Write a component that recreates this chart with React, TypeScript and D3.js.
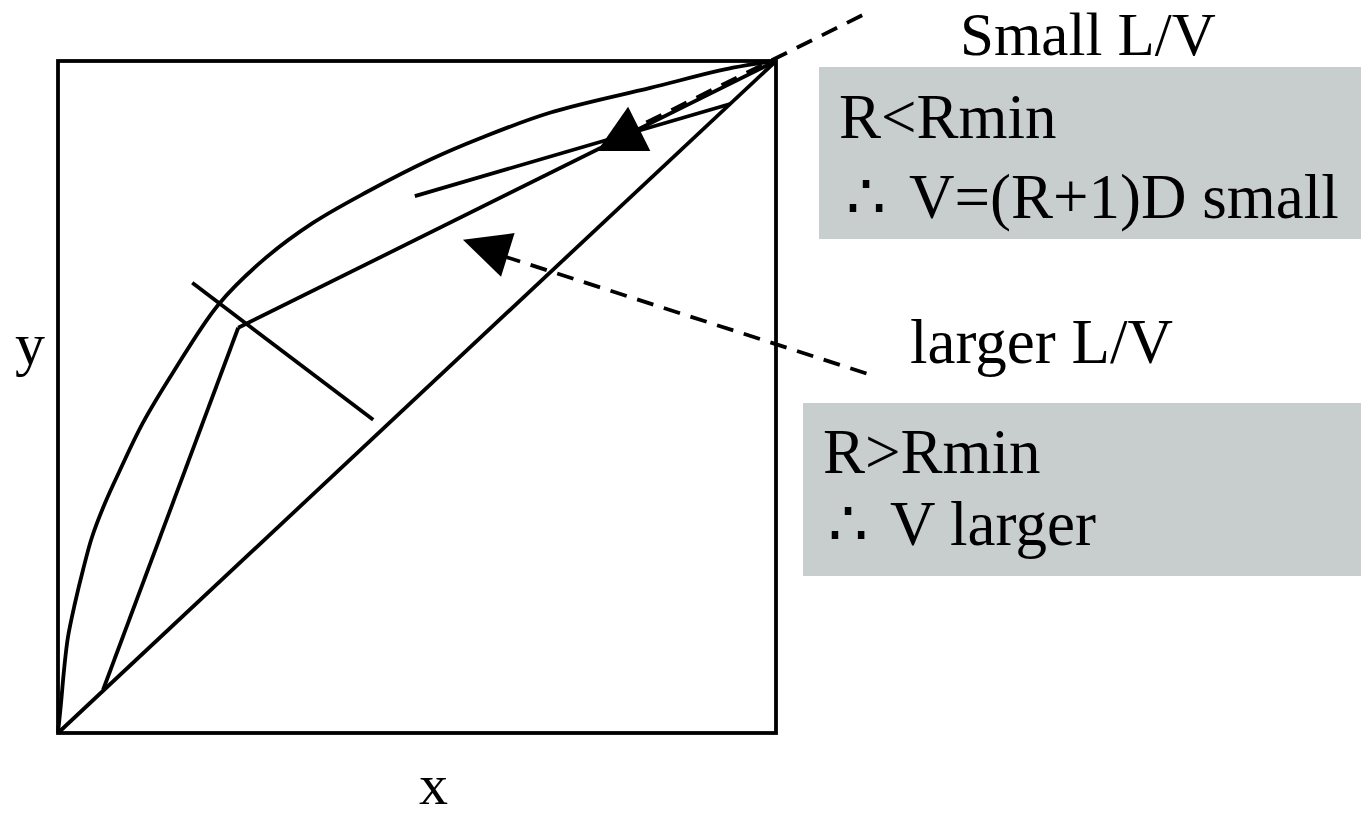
import React from "react";
import * as d3 from "d3";

// Domain values (mole fractions, 0..1)
const equilibriumX = [0, 0.0042, 0.0084, 0.0139, 0.0237, 0.0348, 0.0474, 0.0655, 0.0864, 0.118, 0.16, 0.223, 0.286, 0.355, 0.43, 0.518, 0.588, 0.685, 0.825, 0.94, 1];
const equilibriumY = [0, 0.0446, 0.0938, 0.1429, 0.1935, 0.2426, 0.2917, 0.3423, 0.3914, 0.461, 0.536, 0.637, 0.704, 0.759, 0.805, 0.853, 0.885, 0.923, 0.96, 0.99, 1];

const diagonalX = [0, 1];
const diagonalY = [0, 1];

const rectifyingX = [1, 0.251];
const rectifyingY = [1, 0.603];

const strippingX = [0.251, 0.0627];
const strippingY = [0.603, 0.064];

const qLineX = [0.187, 0.439];
const qLineY = [0.67, 0.466];

const smallLVX = [0.497, 0.936];
const smallLVY = [0.799, 0.936];

const dashSmallX = [1.12, 0.813];
const dashSmallY = [1.068, 0.905];

const dashLargeX = [1.126, 0.625];
const dashLargeY = [0.535, 0.708];

const arrowSmallX = [0.794, 0.751, 0.825];
const arrowSmallY = [0.932, 0.866, 0.866];

const arrowLargeX = [0.564, 0.636, 0.617];
const arrowLargeY = [0.734, 0.744, 0.679];

const axisLabels = ["x", "y"];
const noteTitles = ["Small L/V", "larger L/V"];
const noteLines1 = ["R<Rmin", "\u2234", "V=(R+1)D small"];
const noteLines2 = ["R>Rmin", "\u2234", "V larger"];

const W = 1361;
const H = 817;
const FONT = "'Liberation Serif', 'Times New Roman', serif";

const zip = (xs: number[], ys: number[]): [number, number][] => xs.map((x, i) => [x, ys[i]]);

export default function App() {
  const x = d3.scaleLinear().domain([0, 1]).range([58, 776]);
  const y = d3.scaleLinear().domain([0, 1]).range([733, 61]);

  const straight = d3.line<[number, number]>().x((d) => x(d[0])).y((d) => y(d[1]));
  const curve = d3
    .line<[number, number]>()
    .x((d) => x(d[0]))
    .y((d) => y(d[1]))
    .curve(d3.curveCatmullRom.alpha(0.5));

  const tri = (xs: number[], ys: number[]) => straight(zip(xs, ys)) + "Z";

  const stroke = { stroke: "#000", strokeWidth: 3.8, fill: "none" } as const;
  const dashed = { ...stroke, strokeDasharray: "17 11" } as const;

  return (
    <svg width={W} height={H} style={{ position: "absolute", left: 0, top: 0, background: "#fff" }}>
      <rect x={0} y={0} width={W} height={H} fill="#fff" />
      {/* gray note boxes */}
      <rect x={819} y={67} width={542} height={172} fill="#c8cdcd" />
      <rect x={803} y={403} width={558} height={173} fill="#c8cdcd" />

      {/* frame */}
      <rect x={x(0)} y={y(1)} width={x(1) - x(0)} height={y(0) - y(1)} {...stroke} />

      <path d={straight(zip(diagonalX, diagonalY)) || ""} {...stroke} />
      <path d={curve(zip(equilibriumX, equilibriumY)) || ""} {...stroke} />
      <path d={straight(zip(rectifyingX, rectifyingY)) || ""} {...stroke} />
      <path d={straight(zip(strippingX, strippingY)) || ""} {...stroke} />
      <path d={straight(zip(qLineX, qLineY)) || ""} {...stroke} />
      <path d={straight(zip(smallLVX, smallLVY)) || ""} {...stroke} />
      <path d={straight(zip(dashSmallX, dashSmallY)) || ""} {...dashed} />
      <path d={straight(zip(dashLargeX, dashLargeY)) || ""} {...dashed} />
      <path d={tri(arrowSmallX, arrowSmallY)} fill="#000" />
      <path d={tri(arrowLargeX, arrowLargeY)} fill="#000" />

      <g fontFamily={FONT} fontSize={63} fill="#000">
        <text x={419} y={804} fontSize={58}>{axisLabels[0]}</text>
        <text x={15} y={364} fontSize={60}>{axisLabels[1]}</text>
        <text x={960} y={55} fontSize={61}>{noteTitles[0]}</text>
        <text x={839} y={138}>{noteLines1[0]}</text>
        <text y={218}>
          <tspan x={846}>{noteLines1[1]}</tspan>
          <tspan x={909}>{noteLines1[2]}</tspan>
        </text>
        <text x={910} y={363}>{noteTitles[1]}</text>
        <text x={823} y={473}>{noteLines2[0]}</text>
        <text y={545}>
          <tspan x={828}>{noteLines2[1]}</tspan>
          <tspan x={890}>{noteLines2[2]}</tspan>
        </text>
      </g>
    </svg>
  );
}
